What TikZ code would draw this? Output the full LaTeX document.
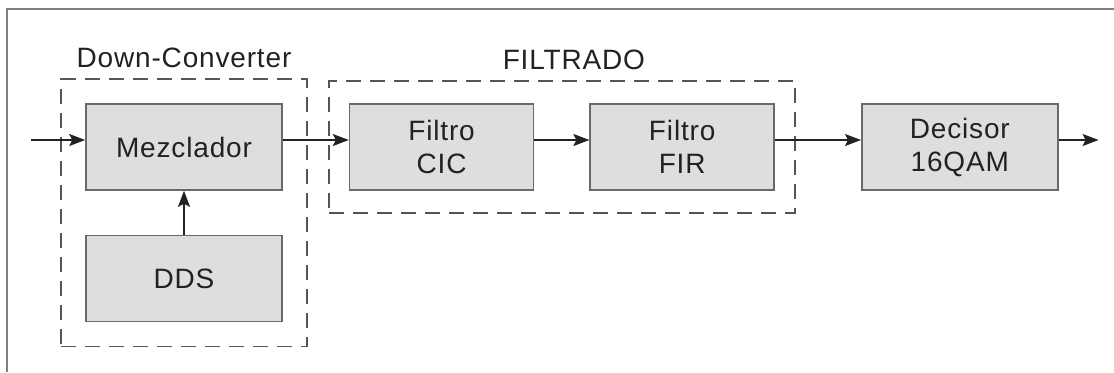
\documentclass[tikz,border=0pt]{standalone}
\usepackage{fontspec}
\setmainfont{Liberation Sans}[LetterSpace=3]
\usepackage{tikz}
\usetikzlibrary{arrows.meta,positioning,fit}
\definecolor{BoxFill}{HTML}{DEDEDE}
\definecolor{BoxLine}{HTML}{6A6A6A}
\definecolor{Ink}{HTML}{222222}
\definecolor{DashLine}{HTML}{555555}
\definecolor{Frame}{HTML}{808080}

\begin{document}
\begin{tikzpicture}[
    bloque/.style={
        rectangle,
        draw=BoxLine,
        line width=0.8pt,
        fill=BoxFill,
        minimum width=98pt,
        minimum height=43pt,
        inner sep=0pt,
        align=center,
        text=Ink,
        font=\fontsize{14}{16.5}\selectfont
    },
    grupo/.style={
        draw=DashLine,
        line width=0.8pt,
        dash pattern=on 7.5pt off 4.5pt,
        inner sep=0pt
    },
    rotulo/.style={
        text=Ink,
        inner sep=2pt,
        font=\fontsize{14}{16.5}\selectfont
    },
    flecha/.style={-{Stealth[length=8pt,width=6pt,inset=1.5pt]}, line width=0.8pt, draw=Ink}
]
    \useasboundingbox (0,0) rectangle (557pt,-186pt);
    \draw[Frame, line width=1pt] (3.5pt,-186pt) -- (3.5pt,-4.5pt) -- (557pt,-4.5pt);

    \node[bloque] (mez) at (92pt,-73.5pt) {Mezclador};
    \node[bloque, below=22pt of mez] (dds) {DDS};
    \node[bloque, minimum width=92pt, right=33pt of mez] (cic) {Filtro\\CIC};
    \node[bloque, minimum width=92pt, right=27.5pt of cic] (fir) {Filtro\\FIR};
    \node[bloque, right=43pt of fir] (dec) {Decisor\\16QAM};

    % grupos punteados
    \node[grupo, inner xsep=12pt, inner ysep=12pt, fit=(mez)(dds),
          label={[rotulo, label distance=3pt]above:Down-Converter}] (down) {};
    \node[grupo, inner xsep=10pt, inner ysep=11pt, fit=(cic)(fir),
          label={[rotulo, label distance=3pt, xshift=6pt]above:FILTRADO}] (filt) {};

    \coordinate[left=27pt of mez.west] (ent);
    \coordinate[right=20pt of dec.east] (sal);

    \draw[flecha] ([yshift=3.5pt]ent) -- ([yshift=3.5pt]mez.west);
    \draw[flecha] (dds) -- (mez);
    \draw[flecha] ([yshift=3.5pt]mez.east) -- ([yshift=3.5pt]cic.west);
    \draw[flecha] ([yshift=3.5pt]cic.east) -- ([yshift=3.5pt]fir.west);
    \draw[flecha] ([yshift=3.5pt]fir.east) -- ([yshift=3.5pt]dec.west);
    \draw[flecha] ([yshift=3.5pt]dec.east) -- ([yshift=3.5pt]sal);
\end{tikzpicture}
\end{document}
